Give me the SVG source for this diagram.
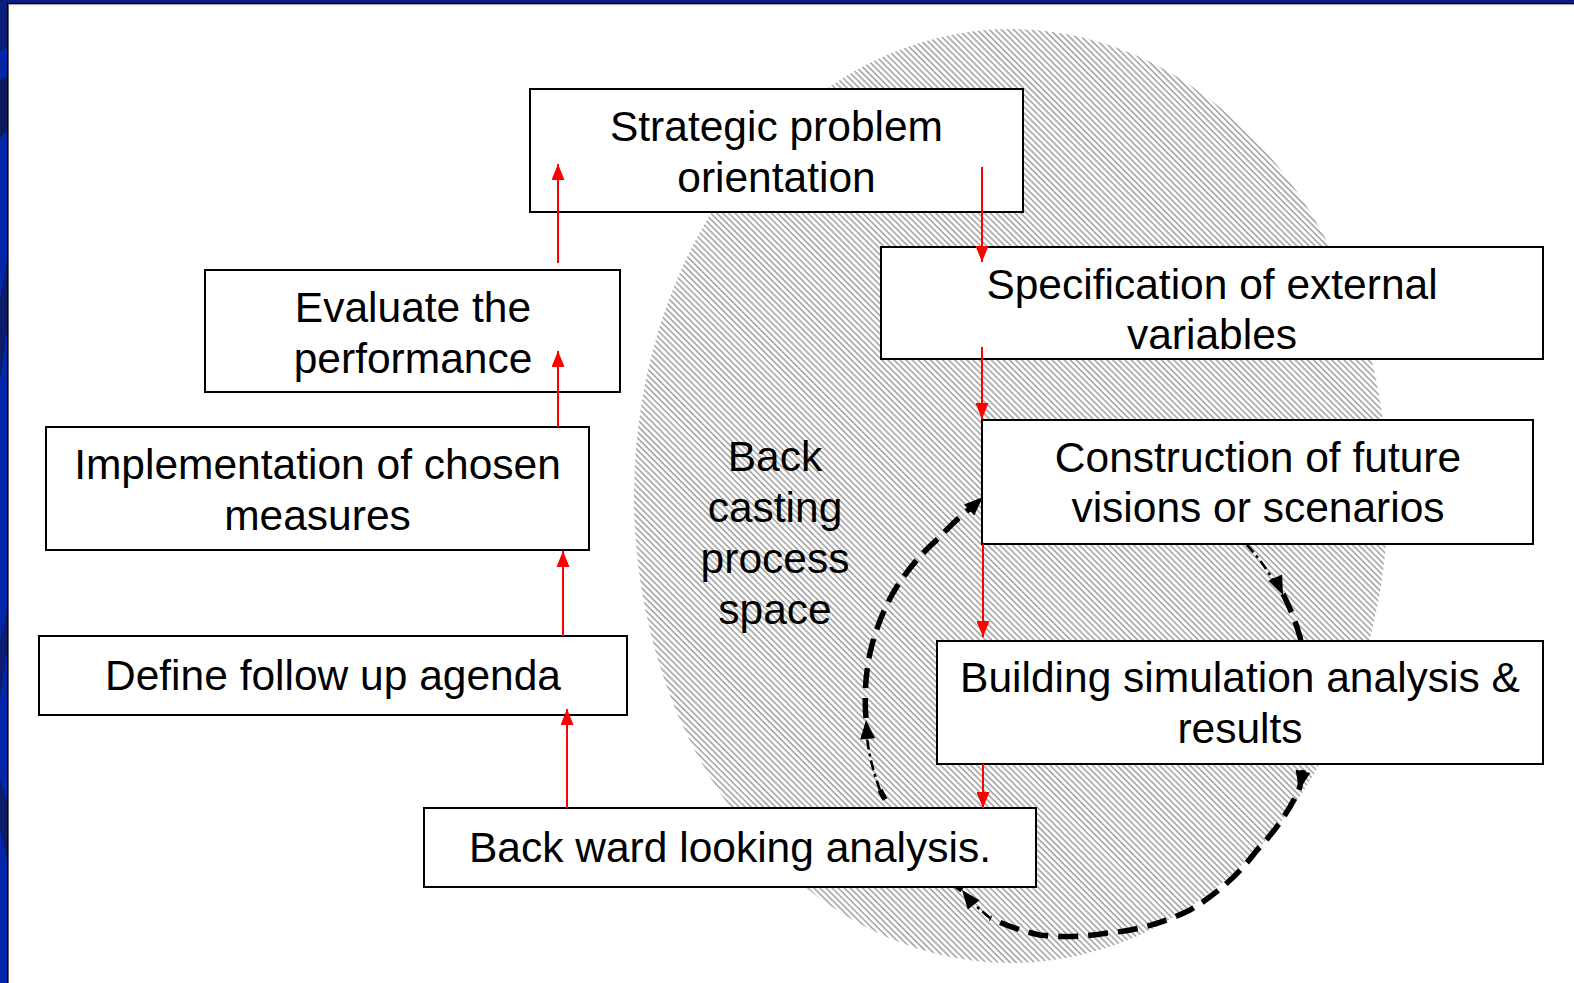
<svg xmlns="http://www.w3.org/2000/svg" xmlns:xlink="http://www.w3.org/1999/xlink" width="1574" height="983" viewBox="0 0 1574 983">
  <style>
    .box rect { fill: #ffffff; stroke: #000000; stroke-width: 2; }
    .lbl { font-family: "Liberation Sans", Arial, "Helvetica", sans-serif; font-size: 42.5px; fill: #000000; text-anchor: middle; }
    .red { stroke: #ff0000; stroke-width: 2; fill: none; marker-end: url(#redHead); }
    .loopThick { fill: none; stroke: #000000; stroke-width: 5.5; stroke-dasharray: 20 10; }
    .loopThin { fill: none; stroke: #000000; stroke-width: 2.6; stroke-dasharray: 10 4 3 4; }
  </style>
  <defs>
    <pattern id="hatch" width="4.3" height="4.3" patternUnits="userSpaceOnUse" patternTransform="rotate(45)">
      <rect width="4.3" height="4.3" fill="#ffffff"/>
      <rect width="4.3" height="1.5" fill="#a0a0a0"/>
    </pattern>
    <marker id="redHead" markerUnits="userSpaceOnUse" markerWidth="16" markerHeight="13" refX="16" refY="6.5" orient="auto">
      <path d="M0,0 L16,6.5 L0,13 Z" fill="#ff0000"/>
    </marker>
    <path id="blackHead" d="M0,0 L-19,-7.5 L-19,7.5 Z" fill="#000000"/>
  </defs>

  <!-- page background and slide frame -->
  <rect x="0" y="0" width="1574" height="983" fill="#ffffff"/>
  <rect x="0" y="0" width="1574" height="3" fill="#0b1d80"/>
  <rect x="0" y="0" width="7" height="983" fill="#0227a8"/>
  <polygon points="0,0 7,0 7,48 0,52" fill="#0a1f78"/>
  <polygon points="0,80 7,76 7,130 0,138" fill="#0b1a5a"/>
  <polygon points="0,300 7,260 7,330 0,380" fill="#0a1c6a"/>
  <polygon points="0,640 7,610 7,650 0,700" fill="#0b1d70"/>
  <polygon points="0,780 7,800 7,860 0,830" fill="#0a1c6a"/>
  <rect x="7" y="3" width="1.6" height="980" fill="#000000"/>
  <rect x="7" y="3" width="1567" height="1.5" fill="#000000"/>
  <rect x="8.6" y="4.5" width="1565" height="1" fill="#dcdcdc"/>

  <!-- backcasting process space -->
  <g id="process-space">
    <ellipse cx="1011" cy="496" rx="377" ry="467" fill="url(#hatch)"/>
    <text class="lbl" x="775" y="471">Back</text>
    <text class="lbl" x="775" y="522">casting</text>
    <text class="lbl" x="775" y="573">process</text>
    <text class="lbl" x="775" y="624">space</text>
  </g>

  <!-- iteration loop behind the boxes -->
  <g id="loop">
    <path class="loopThin" d="M1232,530 A225 225 0 0 1 1275,583"/>
    <path class="loopThick" d="M1283,594 A225 225 0 0 1 1300,637 A225 225 0 0 1 1304,705 A225 225 0 0 1 1299,790 A225 225 0 0 1 1257,850 A225 225 0 0 1 1190,910 A225 225 0 0 1 1107,933 A225 225 0 0 1 1040,935 A225 225 0 0 1 990,918"/>
    <path class="loopThin" d="M990,918 A225 225 0 0 1 968,898"/>
    <path class="loopThick" d="M962,890 A225 225 0 0 1 890,808 A225 225 0 0 1 880,790"/>
    <path class="loopThin" d="M880,790 A225 225 0 0 1 867,738"/>
    <path class="loopThick" d="M866,718 A225 225 0 0 1 870,653 A225 225 0 0 1 893,593 A225 225 0 0 1 940,537 A225 225 0 0 1 976,504"/>
    <use xlink:href="#blackHead" href="#blackHead" transform="translate(983,497) rotate(-43)"/>
    <use xlink:href="#blackHead" href="#blackHead" transform="translate(866,720) rotate(-95)"/>
    <use xlink:href="#blackHead" href="#blackHead" transform="translate(962,890) rotate(-128)"/>
    <use xlink:href="#blackHead" href="#blackHead" transform="translate(1299,790) rotate(102)"/>
    <use xlink:href="#blackHead" href="#blackHead" transform="translate(1283,595) rotate(66)"/>
  </g>

  <!-- process steps -->
  <g id="strategic-problem" class="box">
    <rect x="530" y="89" width="493" height="123"/>
    <text class="lbl" x="776.5" y="141">Strategic problem</text>
    <text class="lbl" x="776.5" y="192">orientation</text>
  </g>
  <g id="external-variables" class="box">
    <rect x="881" y="247" width="662" height="112"/>
    <text class="lbl" x="1212" y="299">Specification of external</text>
    <text class="lbl" x="1212" y="349">variables</text>
  </g>
  <g id="future-visions" class="box">
    <rect x="982" y="420" width="551" height="124"/>
    <text class="lbl" x="1258" y="472">Construction of future</text>
    <text class="lbl" x="1258" y="522">visions or scenarios</text>
  </g>
  <g id="simulation" class="box">
    <rect x="937" y="641" width="606" height="123"/>
    <text class="lbl" x="1240" y="692">Building simulation analysis &amp;</text>
    <text class="lbl" x="1240" y="743">results</text>
  </g>
  <g id="backward-analysis" class="box">
    <rect x="424" y="808" width="612" height="79"/>
    <text class="lbl" x="730" y="862">Back ward looking analysis.</text>
  </g>
  <g id="follow-up-agenda" class="box">
    <rect x="39" y="636" width="588" height="79"/>
    <text class="lbl" x="333" y="690">Define follow up agenda</text>
  </g>
  <g id="implementation" class="box">
    <rect x="46" y="427" width="543" height="123"/>
    <text class="lbl" x="317.5" y="479">Implementation of chosen</text>
    <text class="lbl" x="317.5" y="530">measures</text>
  </g>
  <g id="evaluate" class="box">
    <rect x="205" y="270" width="415" height="122"/>
    <text class="lbl" x="413" y="322">Evaluate the</text>
    <text class="lbl" x="413" y="373">performance</text>
  </g>

  <!-- step-to-step connectors -->
  <g id="connectors">
    <line class="red" x1="982" y1="167" x2="982" y2="262"/>
    <line class="red" x1="982" y1="347" x2="982" y2="419"/>
    <line class="red" x1="983" y1="544" x2="983" y2="637"/>
    <line class="red" x1="983" y1="764" x2="983" y2="808"/>
    <line class="red" x1="567" y1="808" x2="567" y2="709"/>
    <line class="red" x1="563" y1="636" x2="563" y2="551"/>
    <line class="red" x1="558" y1="427" x2="558" y2="351"/>
    <line class="red" x1="558" y1="263" x2="558" y2="164"/>
  </g>
</svg>
